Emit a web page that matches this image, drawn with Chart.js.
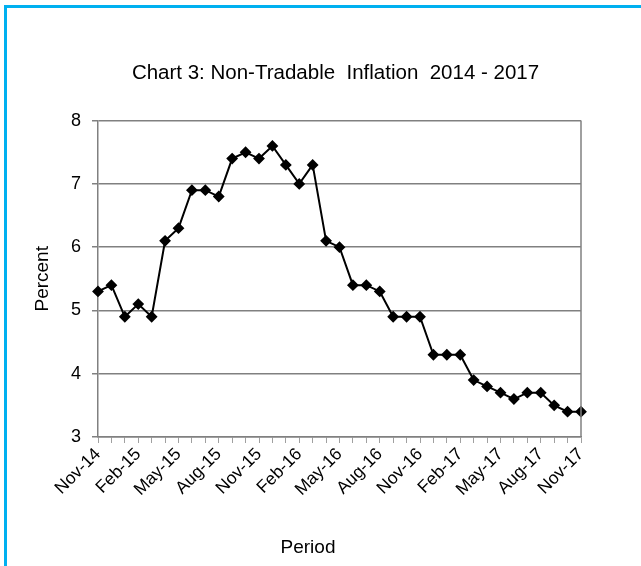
<!doctype html>
<html lang="en">
  <head>
    <meta charset="utf-8">
    <title>Chart 3: Non-Tradable Inflation 2014 - 2017</title>
    <style>
      body { margin: 0; background: #fff; }
      .frame { position: absolute; left: 4px; top: 5px; width: 637px; height: 561px;
               border-top: 3px solid #00b0f0; border-left: 3px solid #00b0f0; }
      .wrap { position: absolute; left: 0; top: 0; width: 641px; height: 566px; }
    </style>
  </head>
  <body>
    <div class="frame"></div>
    <div class="wrap"><canvas id="inflationChart"></canvas></div>

    <script src="https://cdn.jsdelivr.net/npm/chart.js/dist/chart.umd.min.js"></script>
    <script>
      // monthly periods, Nov-14 to Nov-17
      const periods = [
        'Nov-14', 'Dec-14', 'Jan-15', 'Feb-15', 'Mar-15', 'Apr-15', 'May-15', 'Jun-15', 'Jul-15',
        'Aug-15', 'Sep-15', 'Oct-15', 'Nov-15', 'Dec-15', 'Jan-16', 'Feb-16', 'Mar-16', 'Apr-16',
        'May-16', 'Jun-16', 'Jul-16', 'Aug-16', 'Sep-16', 'Oct-16', 'Nov-16', 'Dec-16', 'Jan-17',
        'Feb-17', 'Mar-17', 'Apr-17', 'May-17', 'Jun-17', 'Jul-17', 'Aug-17', 'Sep-17', 'Oct-17',
        'Nov-17'
      ];
      const inflation = [
        5.3, 5.4, 4.9, 5.1, 4.9, 6.1, 6.3, 6.9, 6.9,
        6.8, 7.4, 7.5, 7.4, 7.6, 7.3, 7.0, 7.3, 6.1,
        6.0, 5.4, 5.4, 5.3, 4.9, 4.9, 4.9, 4.3, 4.3,
        4.3, 3.9, 3.8, 3.7, 3.6, 3.7, 3.7, 3.5, 3.4,
        3.4
      ];
      // only every third month gets a label
      const shownTicks = ['Nov-14', 'Feb-15', 'May-15', 'Aug-15', 'Nov-15', 'Feb-16', 'May-16',
        'Aug-16', 'Nov-16', 'Feb-17', 'May-17', 'Aug-17', 'Nov-17'];

      const font = 'Liberation Sans, Arial, sans-serif';

      // right edge of the plot box + x axis title (sits left of centre in the original)
      const plotBox = {
        id: 'plotBox',
        afterDraw(chart) {
          const { ctx, chartArea: a } = chart;
          ctx.save();
          ctx.strokeStyle = '#808080';
          ctx.lineWidth = 1.5;
          ctx.beginPath();
          ctx.moveTo(a.right, a.top);
          ctx.lineTo(a.right, a.bottom);
          ctx.stroke();
          ctx.fillStyle = '#000';
          ctx.font = '19px ' + font;
          ctx.textAlign = 'center';
          ctx.textBaseline = 'middle';
          ctx.fillText('Period', 308, 548);
          ctx.restore();
        }
      };

      new Chart(document.getElementById('inflationChart'), {
        type: 'line',
        data: {
          labels: periods,
          datasets: [{
            label: 'Non-Tradable Inflation',
            data: inflation,
            borderColor: '#000',
            backgroundColor: '#000',
            borderWidth: 2,
            pointStyle: 'rectRot',
            pointRadius: 4.5,
            pointHoverRadius: 4.5,
            tension: 0
          }]
        },
        options: {
          responsive: true,
          maintainAspectRatio: false,
          animation: false,
          layout: { padding: { left: 31, right: 1, top: 0, bottom: 9 } },
          plugins: {
            legend: { display: false },
            tooltip: { enabled: false },
            title: {
              display: true,
              text: 'Chart 3: Non-Tradable  Inflation  2014 - 2017',
              color: '#000',
              font: { family: font, size: 20.5, weight: 'normal' },
              padding: { top: 61, bottom: 35 }
            }
          },
          scales: {
            x: {
              offset: false,
              afterFit(scale) { scale.height = 120; },
              grid: { drawOnChartArea: false, color: '#a0a0a0', tickLength: 6 },
              border: { color: '#808080', width: 1.5 },
              ticks: {
                autoSkip: false,
                maxRotation: 45,
                minRotation: 45,
                padding: 1,
                color: '#000',
                font: { family: font, size: 17.5 },
                callback: (v, i) => shownTicks.includes(periods[i]) ? periods[i] : ''
              }
            },
            y: {
              min: 3,
              max: 8,
              afterFit(scale) { scale.width = 67; },
              grid: { color: '#808080', lineWidth: 1.5, tickLength: 6 },
              border: { color: '#808080', width: 1.5 },
              ticks: {
                stepSize: 1,
                padding: 11,
                color: '#000',
                font: { family: font, size: 18 }
              },
              title: {
                display: true,
                text: 'Percent',
                color: '#000',
                font: { family: font, size: 19 },
                padding: { top: 0, bottom: 4 }
              }
            },
            // empty spacer on the right so the title centres like the original
            spacer: {
              position: 'right',
              afterFit(scale) { scale.width = 59; },
              grid: { display: false },
              border: { display: false },
              ticks: { display: false }
            }
          }
        },
        plugins: [plotBox]
      });
    </script>
  </body>
</html>
